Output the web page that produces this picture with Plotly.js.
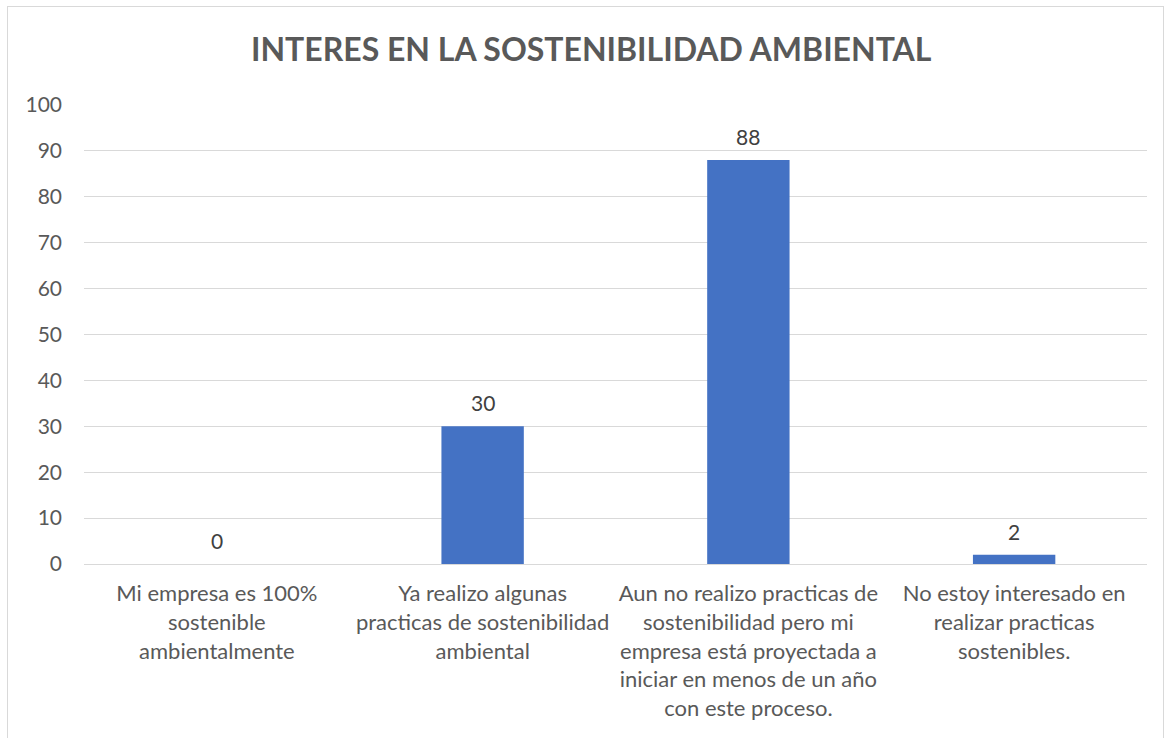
<!DOCTYPE html>
<html>
<head>
<meta charset="utf-8">
<script src="https://cdn.plot.ly/plotly-3.0.1.min.js"></script>
<style>
html,body{margin:0;padding:0;background:#fff;}
#wrap{position:relative;width:1173px;height:738px;overflow:hidden;}
#frame{position:absolute;left:7px;top:6px;width:1157px;height:760px;border:1px solid #d9d9d9;box-sizing:border-box;pointer-events:none;}
#chart{position:absolute;left:0;top:0;width:1173px;height:738px;}
</style>
</head>
<body>
<div id="wrap">
<div id="chart"></div>
<div id="frame"></div>
</div>
<script>
const categories = [
  "Mi empresa es 100%<br>sostenible<br>ambientalmente",
  "Ya realizo algunas<br>practicas de sostenibilidad<br>ambiental",
  "Aun no realizo practicas de<br>sostenibilidad pero mi<br>empresa está proyectada a<br>iniciar en menos de un año<br>con este proceso.",
  "No estoy interesado en<br>realizar practicas<br>sostenibles."
];
const values = [0, 30, 88, 2];
const yTicks = [0, 10, 20, 30, 40, 50, 60, 70, 80, 90, 100];
const chartTitle = "INTERES EN LA SOSTENIBILIDAD AMBIENTAL";

const fontFam = "Lato, 'Open Sans', sans-serif";
const gray = "#595959";

const trace = {
  type: "bar",
  x: categories,
  y: values,
  marker: {color: "#4472c4"},
  hoverinfo: "x+y"
};

const annotations = values.map((v, i) => ({
  x: categories[i], y: v, xref: "x", yref: "y",
  text: String(v), showarrow: false,
  yanchor: "bottom", yshift: 9,
  font: {family: fontFam, size: 21, color: "#404040"}
}));

const layout = {
  width: 1173, height: 738,
  margin: {l: 84, r: 26, t: 105, b: 174, pad: 0},
  paper_bgcolor: "rgba(0,0,0,0)",
  plot_bgcolor: "#fff",
  showlegend: false,
  bargap: 0.69,
  title: {
    text: "<b>" + chartTitle + "</b>",
    x: 0.504, xanchor: "center",
    y: 0.932, yanchor: "middle",
    font: {family: fontFam, size: 32, color: gray}
  },
  xaxis: {
    type: "category",
    tickfont: {family: fontFam, size: 22, color: gray},
    showgrid: false,
    showline: true, linecolor: "#d9d9d9", linewidth: 1,
    ticks: "", ticklabelstandoff: 10,
    tickangle: 0
  },
  yaxis: {
    range: [0, 100],
    tickvals: yTicks,
    ticktext: yTicks.map(String),
    tickfont: {family: fontFam, size: 21, color: gray},
    showgrid: true, gridcolor: "#d9d9d9", gridwidth: 1,
    zeroline: true, zerolinecolor: "#d9d9d9", zerolinewidth: 1,
    showline: false, ticks: "", ticklabelstandoff: 21
  },
  annotations: annotations
};

Plotly.newPlot("chart", [trace], layout, {displayModeBar: false, staticPlot: true});
</script>
</body>
</html>
